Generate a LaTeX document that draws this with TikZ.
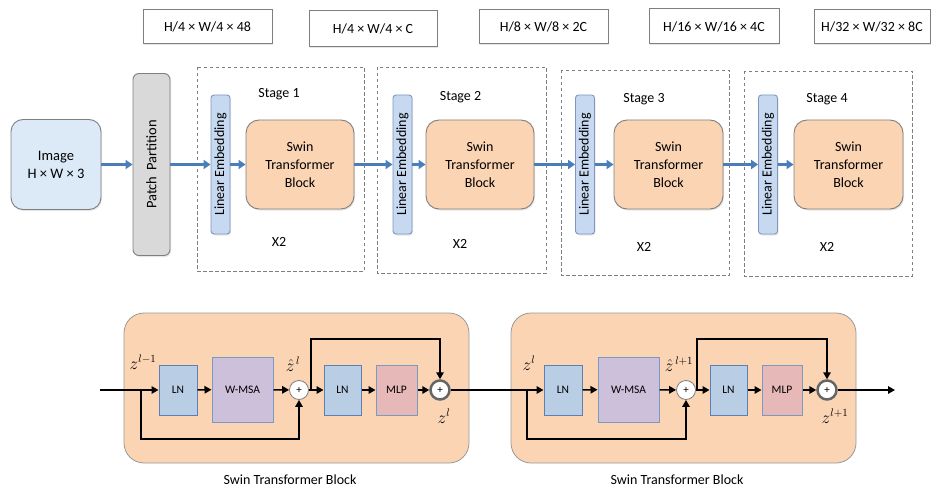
\documentclass[tikz,border=0pt]{standalone}
\usepackage{fontspec}
\setmainfont{Carlito}
\usetikzlibrary{arrows.meta,calc,shadows}
\definecolor{imgfill}{HTML}{DCEAF8}
\definecolor{graybd}{HTML}{7F7F7F}
\definecolor{ppfill}{HTML}{D9D9D9}
\definecolor{lefill}{HTML}{C6D9F1}
\definecolor{lebd}{HTML}{7F97BF}
\definecolor{swfill}{HTML}{FBD4B4}
\definecolor{arrblue}{HTML}{4A7EBB}
\definecolor{lnfill}{HTML}{B9CDE5}
\definecolor{lnbd}{HTML}{5B80B3}
\definecolor{wmsafill}{HTML}{CCC0DA}
\definecolor{mlpfill}{HTML}{E6B9B8}
\begin{document}
\begin{tikzpicture}[x=1pt,y=-1pt,
  shad/.style={drop shadow={shadow xshift=1pt,shadow yshift=-1.5pt,opacity=0.2}},
  dimlab/.style={draw=graybd, line width=1pt, fill=white, minimum height=34pt, inner sep=0pt, font=\fontsize{14}{16}\selectfont, shad},
  stagebox/.style={draw=graybd, line width=0.9pt, dash pattern=on 3.5pt off 2.5pt},
  imgbox/.style={draw=graybd, line width=0.9pt, fill=imgfill, rounded corners=12pt, minimum width=90pt, minimum height=90pt, align=center, font=\fontsize{14.5}{18}\selectfont, shad},
  ppbox/.style={draw=graybd, line width=0.9pt, fill=ppfill, rounded corners=6pt, rotate=90, minimum width=182pt, minimum height=37pt, inner sep=0pt, font=\fontsize{14.5}{16}\selectfont, shad},
  lebox/.style={draw=lebd, line width=0.9pt, fill=lefill, rounded corners=3pt, rotate=90, minimum width=139pt, minimum height=19pt, inner sep=0pt, font=\fontsize{14}{16}\selectfont, shad},
  swbox/.style={draw=graybd, line width=0.9pt, fill=swfill, rounded corners=13pt, minimum width=108pt, minimum height=89pt, align=center, font=\fontsize{14}{18}\selectfont, shad},
  txt/.style={font=\fontsize{14}{16}\selectfont, inner sep=0pt},
  barrow/.style={draw=arrblue, line width=3pt, -{Triangle[length=7pt,width=9pt]}},
  blkbox/.style={draw=graybd!80, line width=0.8pt, fill=swfill, rounded corners=20pt, minimum width=345pt, minimum height=150pt},
  lnbox/.style={draw=lnbd, line width=1pt, fill=lnfill, minimum width=38pt, minimum height=50pt, inner sep=0pt, font=\fontsize{11.5}{13}\selectfont},
  wmsabox/.style={lnbox, fill=wmsafill, draw=lnbd!80, minimum width=61pt, minimum height=65pt},
  mlpbox/.style={lnbox, fill=mlpfill, draw=lnbd!80, minimum width=41pt},
  plusa/.style={circle, draw=graybd, line width=0.8pt, fill=white, minimum size=19pt, inner sep=0pt, font=\fontsize{11}{12}\selectfont},
  plusb/.style={plusa, draw=graybd!80!black, line width=2.5pt},
  arr/.style={draw=black, line width=1.5pt, -{Triangle[length=7pt,width=7.5pt]}},
  mlab/.style={font=\fontsize{16}{17}\selectfont, inner sep=0pt, anchor=base}
]
\useasboundingbox (0,0) rectangle (931,489);

% dimension labels
\node[dimlab, minimum width=129pt] (d1) at (207.5,27) {H/4 × W/4 × 48};
\node[dimlab, minimum width=128pt, minimum height=36pt] (d2) at (373,29) {H/4 × W/4 × C};
\node[dimlab, minimum width=129pt] (d3) at (543.5,27) {H/8 × W/8 × 2C};
\node[dimlab, minimum width=130pt, minimum height=35pt] (d4) at (714,26.5) {H/16 × W/16 × 4C};
\node[dimlab, minimum width=116pt] (d5) at (872,27) {H/32 × W/32 × 8C};

% stage boxes
\draw[stagebox] (197,67) rectangle (364,271);
\draw[stagebox] (377,67) rectangle (546,273);
\draw[stagebox] (561,70) rectangle (729,275);
\draw[stagebox] (744,71) rectangle (912,276);

% top row
\node[imgbox] (img) at (56,164.5) {Image\\H × W × 3};
\node[ppbox] (pp) at (151.5,164.5) {Patch\, Partition};
\node[lebox] (le1) at (220.5,164.5) {Linear Embedding};
\node[swbox] (sw1) at (300,164.5) {Swin\\Transformer\\Block};
\node[lebox] (le2) at (402.5,164.5) {Linear Embedding};
\node[swbox] (sw2) at (480,164.5) {Swin\\Transformer\\Block};
\node[lebox] (le3) at (585,164.5) {Linear Embedding};
\node[swbox, minimum width=109pt] (sw3) at (668.5,164.5) {Swin\\Transformer\\Block};
\node[lebox] (le4) at (768,164.5) {Linear Embedding};
\node[swbox, minimum width=109pt] (sw4) at (848.5,164.5) {Swin\\Transformer\\Block};

\node[txt] (s1) at (279,94) {Stage 1};
\node[txt] (s2) at (460.5,97) {Stage 2};
\node[txt] (s3) at (644,99) {Stage 3};
\node[txt] (s4) at (827,99) {Stage 4};
\node[txt] (x1) at (279,242) {X2};
\node[txt] (x2) at (460,244) {X2};
\node[txt] (x3) at (644,247) {X2};
\node[txt] (x4) at (827,247) {X2};

\draw[barrow] (img) -- (pp);
\draw[barrow] (pp) -- (le1);
\draw[barrow] (le1) -- (sw1);
\draw[barrow] (sw1) -- (le2);
\draw[barrow] (le2) -- (sw2);
\draw[barrow] (sw2) -- (le3);
\draw[barrow] (le3) -- (sw3);
\draw[barrow] (sw3) -- (le4);
\draw[barrow] (le4) -- (sw4);

% bottom blocks
\node[blkbox] (blk1) at (296.5,388) {};
\node[blkbox] (blk2) at (683.5,388) {};

\node[lnbox] (ln1a) at (178,390) {LN};
\node[wmsabox] (wa) at (242.5,389.5) {W-MSA};
\node[plusa] (p1a) at (299,390) {+};
\node[lnbox, minimum width=37pt] (ln2a) at (342.5,390) {LN};
\node[mlpbox] (ma) at (396.5,390) {MLP};
\node[plusb] (p2a) at (440,390) {+};

\node[lnbox] (ln1b) at (563,390) {LN};
\node[wmsabox] (wb) at (628.5,389.5) {W-MSA};
\node[plusa] (p1b) at (686,390) {+};
\node[lnbox, minimum width=37pt] (ln2b) at (728.5,390) {LN};
\node[mlpbox, minimum width=40pt] (mb) at (782,390) {MLP};
\node[plusb] (p2b) at (827,390) {+};

\coordinate (in) at (100,390);
\coordinate (ba) at (141,390);
\coordinate (ba2) at (141,439);
\coordinate (ca) at (311,390);
\coordinate (ca2) at (311,339);
\coordinate (bb) at (527,390);
\coordinate (bb2) at (527,439);
\coordinate (cb) at (697,390);
\coordinate (cb2) at (697,339);
\coordinate (out) at (895,390);

\draw[arr] (in) -- (ln1a);
\draw[arr] (ln1a) -- (wa);
\draw[arr] (wa) -- (p1a);
\draw[arr] (ba) -- (ba2) -| (p1a);
\draw[arr] (p1a) -- (ln2a);
\draw[arr] (ca) -- (ca2) -| (p2a);
\draw[arr] (ln2a) -- (ma);
\draw[arr] (ma) -- (p2a);
\draw[arr] (p2a) -- (ln1b);
\draw[arr] (ln1b) -- (wb);
\draw[arr] (wb) -- (p1b);
\draw[arr] (bb) -- (bb2) -| (p1b);
\draw[arr] (p1b) -- (ln2b);
\draw[arr] (cb) -- (cb2) -| (p2b);
\draw[arr] (ln2b) -- (mb);
\draw[arr] (mb) -- (p2b);
\draw[arr] (p2b) -- (out);

\node[mlab] (za) at (143,369) {$z^{l-1}$};
\node[mlab] (zha) at (293,371) {$\hat z^{\,l}$};
\node[mlab] (zoa) at (444,423) {$z^{l}$};
\node[mlab] (zb) at (529,370) {$z^{l}$};
\node[mlab] (zhb) at (679,371) {$\hat z^{\,l+1}$};
\node[mlab] (zob) at (835,423) {$z^{l+1}$};

\node[txt] (c1) at (290,480) {Swin Transformer Block};
\node[txt] (c2) at (677,480) {Swin Transformer Block};
\end{tikzpicture}
\end{document}
